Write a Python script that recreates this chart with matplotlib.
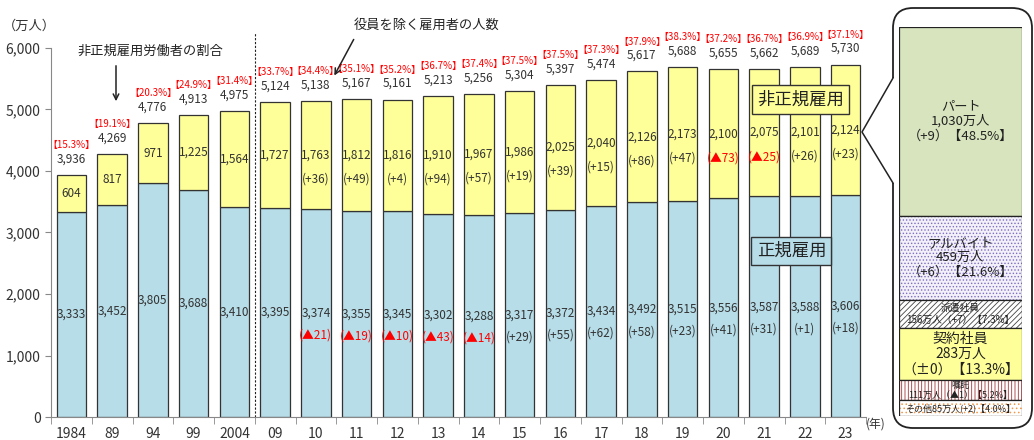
import matplotlib.pyplot as plt
import numpy as np
from matplotlib.patches import FancyBboxPatch, Polygon

plt.rcParams['font.family'] = ['Noto Sans CJK JP', 'DejaVu Sans']
plt.rcParams['hatch.linewidth'] = 0.6

# 雇用形態別雇用者数（万人）
years = ['1984', '89', '94', '99', '2004', '09', '10', '11', '12', '13',
         '14', '15', '16', '17', '18', '19', '20', '21', '22', '23']
regular = [3333, 3452, 3805, 3688, 3410, 3395, 3374, 3355, 3345, 3302,
           3288, 3317, 3372, 3434, 3492, 3515, 3556, 3587, 3588, 3606]
nonregular = [604, 817, 971, 1225, 1564, 1727, 1763, 1812, 1816, 1910,
              1967, 1986, 2025, 2040, 2126, 2173, 2100, 2075, 2101, 2124]
total = [3936, 4269, 4776, 4913, 4975, 5124, 5138, 5167, 5161, 5213,
         5256, 5304, 5397, 5474, 5617, 5688, 5655, 5662, 5689, 5730]
ratio = [15.3, 19.1, 20.3, 24.9, 31.4, 33.7, 34.4, 35.1, 35.2, 36.7,
         37.4, 37.5, 37.5, 37.3, 37.9, 38.3, 37.2, 36.7, 36.9, 37.1]
regular_chg = [None] * 6 + [-21, -19, -10, -43, -14, 29, 55, 62, 58, 23, 41, 31, 1, 18]
nonregular_chg = [None] * 6 + [36, 49, 4, 94, 57, 19, 39, 15, 86, 47, -73, -25, 26, 23]

# 2023年 非正規雇用の内訳
kinds = ['パート', 'アルバイト', '派遣社員', '契約社員', '嘱託', 'その他']
kind_values = [1030, 459, 156, 283, 111, 85]
kind_chg = [9, 6, 7, 0, -1, 2]
kind_ratio = [48.5, 21.6, 7.3, 13.3, 5.2, 4.0]

BLUE = '#B7DDE8'
YELLOW = '#FFFF99'
RED = '#FF0000'
TXT = '#333333'
W, H = 1034, 440


def chg_text(v):
    if v == 0:
        return '±0'
    return '▲%d' % -v if v < 0 else '+%d' % v


fig = plt.figure(figsize=(W / 100, H / 100), dpi=100)
ax = fig.add_axes([51 / W, 1 - 417 / H, (866 - 51) / W, (417 - 48) / H])

x = np.arange(len(years))
ax.bar(x, regular, 0.72, color=BLUE, edgecolor='#333', lw=0.9, zorder=2)
ax.bar(x, nonregular, 0.72, bottom=regular, color=YELLOW, edgecolor='#333', lw=0.9, zorder=2)

for i in range(len(years)):
    ax.text(x[i], regular[i] / 2, f'{regular[i]:,}', ha='center', va='center',
            fontsize=8.5, color=TXT, zorder=3)
    yc = regular[i] + nonregular[i] / 2
    ax.text(x[i], yc, f'{nonregular[i]:,}', ha='center', va='center',
            fontsize=8.5, color=TXT, zorder=3)
    if regular_chg[i] is not None:
        c = RED if regular_chg[i] < 0 else TXT
        ax.annotate(f'({chg_text(regular_chg[i])})', (x[i], regular[i] / 2),
                    xytext=(0, -22), textcoords='offset pixels', ha='center',
                    va='center', fontsize=8.5, color=c, zorder=3)
    if nonregular_chg[i] is not None:
        c = RED if nonregular_chg[i] < 0 else TXT
        ax.annotate(f'({chg_text(nonregular_chg[i])})', (x[i], yc),
                    xytext=(0, -24), textcoords='offset pixels', ha='center',
                    va='center', fontsize=8.5, color=c, zorder=3)
    top = regular[i] + nonregular[i]
    ax.annotate(f'{total[i]:,}', (x[i], top), xytext=(0, 16),
                textcoords='offset pixels', ha='center', va='center',
                fontsize=8.5, color=TXT, annotation_clip=False)
    ax.annotate(f'【{ratio[i]}%】', (x[i], top), xytext=(0, 30),
                textcoords='offset pixels', ha='center', va='center',
                fontsize=7.1, color=RED, annotation_clip=False)

ax.set_xlim(-0.5, len(years) - 0.5)
ax.set_ylim(0, 6000)
ax.set_yticks(range(0, 6001, 1000))
ax.set_yticklabels([f'{v:,}' for v in range(0, 6001, 1000)])
ax.set_xticks(x)
ax.set_xticklabels(years)
ax.set_xticks(np.arange(-0.5, len(years)), minor=True)
ax.tick_params(axis='x', which='major', length=0, pad=7, labelsize=10, labelcolor=TXT)
ax.tick_params(axis='x', which='minor', length=5, color='#888')
ax.tick_params(axis='y', length=4, color='#888', labelsize=10, labelcolor=TXT)
for s in ['top', 'right']:
    ax.spines[s].set_visible(False)
for s in ['left', 'bottom']:
    ax.spines[s].set_color('#888')

ax.plot([4.5, 4.5], [0, 6250], color='#222', lw=0.8, ls=(0, (2, 1.5)),
        clip_on=False, zorder=1)

ax.text(17.9, 5160, '非正規雇用', ha='center', va='center', fontsize=12.5,
        color='#222', zorder=5,
        bbox=dict(boxstyle='square,pad=0.3', fc=YELLOW, ec='#333', lw=1))
ax.text(17.67, 2700, '正規雇用', ha='center', va='center', fontsize=12.5,
        color='#222', zorder=5,
        bbox=dict(boxstyle='square,pad=0.3', fc=BLUE, ec='#333', lw=1))

fig.text(3 / W, 1 - 26 / H, '（万人）', ha='left', va='center', fontsize=9.5, color=TXT)
fig.text(866 / W, 1 - 424 / H, '(年)', ha='left', va='center', fontsize=8.5, color=TXT)

# overlay in pixel coordinates for annotations and callout
ov = fig.add_axes([0, 0, 1, 1])
ov.set_xlim(0, W)
ov.set_ylim(H, 0)
ov.axis('off')
ov.patch.set_alpha(0)

ov.text(150, 51, '非正規雇用労働者の割合', ha='center', va='center', fontsize=9.5, color='#222')
ov.annotate('', xy=(116, 104), xytext=(116, 63),
            arrowprops=dict(arrowstyle='->', color='#222', lw=1.1))
ov.text(427, 25, '役員を除く雇用者の人数', ha='center', va='center', fontsize=9.5, color='#222')
ov.annotate('', xy=(333, 78), xytext=(355, 37),
            arrowprops=dict(arrowstyle='->', color='#222', lw=1.1))

ov.add_patch(FancyBboxPatch((893, 8), 139, 420,
                            boxstyle='round,pad=0,rounding_size=20',
                            fc='white', ec='#222', lw=1.3))
ov.add_patch(Polygon([(862, 132), (893, 78), (897, 78), (897, 183), (893, 183)],
                     closed=True, fc='white', ec='none'))
ov.plot([893, 862, 893], [78, 132, 183], color='#222', lw=1.1)

# breakdown bar
ax2 = fig.add_axes([899 / W, 1 - 416 / H, (1022 - 899) / W, (416 - 27) / H])
ax2.set_xlim(0, 1)
ax2.set_ylim(0, sum(kind_values))
ax2.axis('off')

styles = [
    dict(fc='#D7E4BD', hatch=None, hc=None, size=9.5, mode=3),
    dict(fc='#F3F0FA', hatch='.....', hc='#7E70C0', size=9.5, mode=3),
    dict(fc='white', hatch='//////', hc='#444444', size=7, mode=2),
    dict(fc=YELLOW, hatch=None, hc=None, size=10, mode=3),
    dict(fc='white', hatch='|||||', hc='#A83238', size=6.5, mode=2),
    dict(fc='white', hatch='....', hc='#F79646', size=6.5, mode=1),
]
tops = sum(kind_values) - np.cumsum([0] + kind_values[:-1])
for k in range(len(kinds)):
    st = styles[k]
    b = tops[k] - kind_values[k]
    if st['hatch']:
        ax2.bar(0.5, kind_values[k], 1, bottom=b, color=st['fc'],
                edgecolor=st['hc'], hatch=st['hatch'], lw=0)
    else:
        ax2.bar(0.5, kind_values[k], 1, bottom=b, color=st['fc'], lw=0)
    ax2.bar(0.5, kind_values[k], 1, bottom=b, fill=False, edgecolor='#222', lw=0.9)
    c = chg_text(kind_chg[k])
    if st['mode'] == 3:
        s = f'{kinds[k]}\n{kind_values[k]:,}万人\n（{c}）【{kind_ratio[k]}%】'
    elif st['mode'] == 2:
        s = f'{kinds[k]}\n{kind_values[k]:,}万人（{c}）【{kind_ratio[k]}%】'
    else:
        s = f'{kinds[k]}{kind_values[k]}万人({c})【{kind_ratio[k]}%】'
    ax2.text(0.5, b + kind_values[k] / 2, s, ha='center', va='center',
             fontsize=st['size'], color='#222', linespacing=1.15)

fig.savefig('out.png', dpi=100)
